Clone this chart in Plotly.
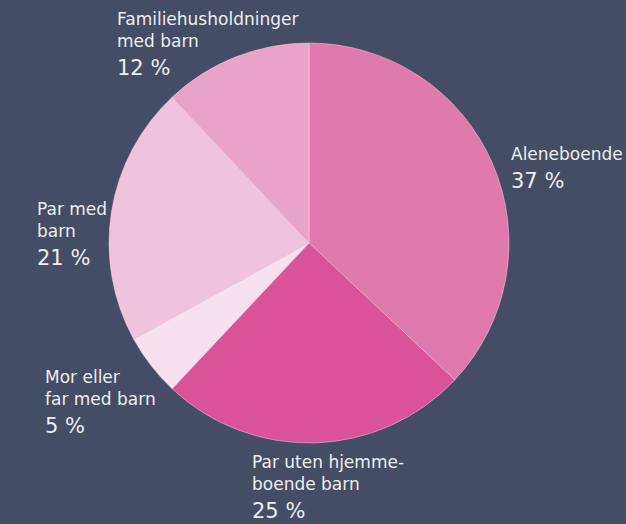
import plotly.graph_objects as go

# Data
categories = ["Aleneboende", "Par uten hjemme-<br>boende barn", "Mor eller<br>far med barn",
              "Par med<br>barn", "Familiehusholdninger<br>med barn"]
values = [37, 25, 5, 21, 12]
colors = ["#e07aae", "#d9529a", "#f8e0ef", "#f0c3dc", "#e9a3c8"]

W, H = 626, 524
BG = "#454c66"
TXT = "#eceef2"
FONT = "DejaVu Sans"

# label anchor positions (pixels, top-left of name block), layout only
label_pos = [(509, 142), (250, 450), (43, 365), (35, 197), (115, 7)]
name_lines = [c.count("<br>") + 1 for c in categories]

fig = go.Figure(go.Pie(
    labels=categories, values=values, sort=False, direction="clockwise", rotation=0,
    marker=dict(colors=colors, line=dict(color="rgba(255,220,235,0.45)", width=1)),
    textinfo="none", hoverinfo="label+percent", showlegend=False,
    domain=dict(x=[109 / W, 509 / W], y=[1 - 443 / H, 1 - 43 / H]),
))

ann = []
for cat, v, (px, py), n in zip(categories, values, label_pos, name_lines):
    ann.append(dict(text=cat, x=px / W, y=1 - py / H, xref="paper", yref="paper",
                    xanchor="left", yanchor="top", align="left", showarrow=False,
                    font=dict(family=FONT, size=17, color=TXT)))
    ann.append(dict(text=f"{v} %", x=px / W, y=1 - (py + 3 + 22 * n) / H, xref="paper", yref="paper",
                    xanchor="left", yanchor="top", align="left", showarrow=False,
                    font=dict(family=FONT, size=21, color=TXT)))

fig.update_layout(width=W, height=H, margin=dict(l=0, r=0, t=0, b=0),
                  paper_bgcolor=BG, plot_bgcolor=BG, annotations=ann)
fig.write_html("out.html", config={"displayModeBar": False},
               post_script="document.body.style.margin='0';document.body.style.background='%s';" % BG)
